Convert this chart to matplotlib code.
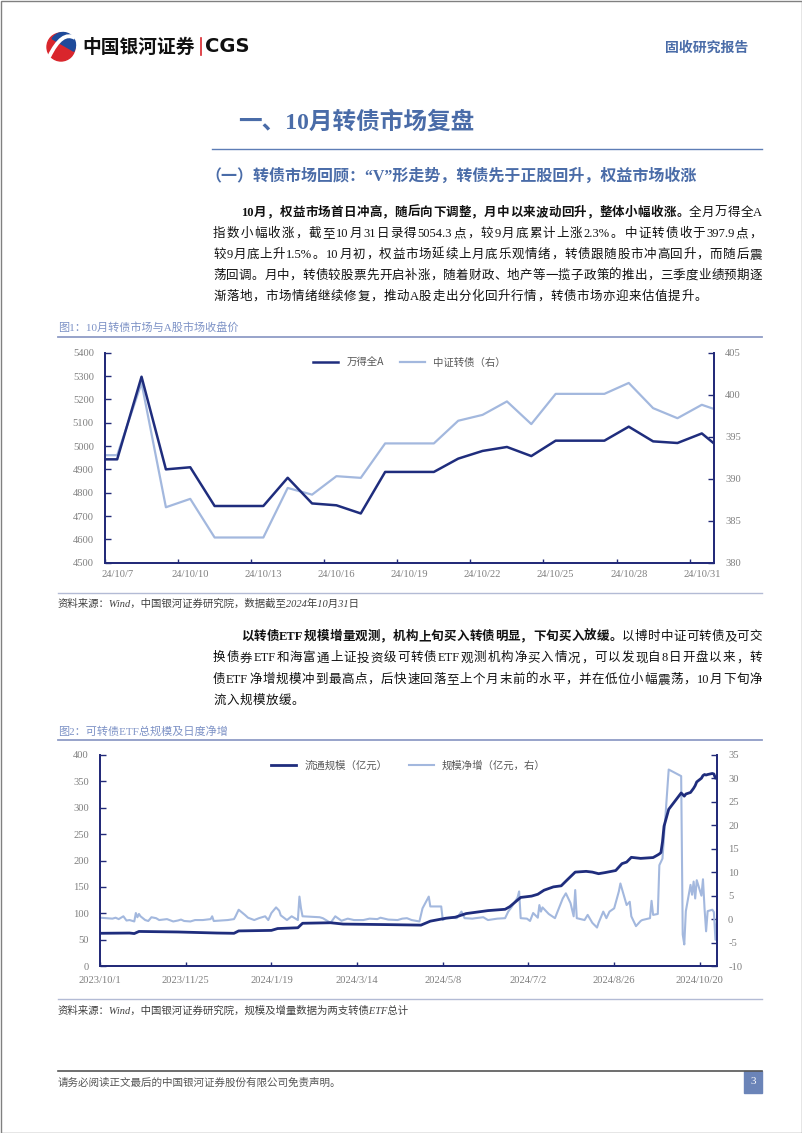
import re
import pandas as pd
import matplotlib
matplotlib.use('Agg')
import matplotlib.pyplot as plt
from matplotlib.patches import Rectangle, Circle, Wedge, PathPatch
from matplotlib.path import Path
from matplotlib.lines import Line2D

plt.rcParams['axes.unicode_minus'] = False

# ---------------- chart 1 data: daily close ----------------
dates1 = ['2024-10-06', '2024-10-07', '2024-10-08', '2024-10-09', '2024-10-10',
          '2024-10-11', '2024-10-12', '2024-10-13', '2024-10-14', '2024-10-15',
          '2024-10-16', '2024-10-17', '2024-10-18', '2024-10-19', '2024-10-20',
          '2024-10-21', '2024-10-22', '2024-10-23', '2024-10-24', '2024-10-25',
          '2024-10-26', '2024-10-27', '2024-10-28', '2024-10-29', '2024-10-30',
          '2024-10-31', '2024-11-01']
wind_a = [4943, 4943, 5297, 4900, 4909, 4743, 4743, 4743, 4864, 4754,
          4746, 4711, 4889, 4889, 4889, 4946, 4979, 4996, 4957, 5023,
          5023, 5023, 5083, 5020, 5013, 5054, 4968]
cb_index = [392.8, 392.8, 401.4, 386.6, 387.6, 383.0, 383.0, 383.0, 388.9, 388.1,
            390.3, 390.1, 394.2, 394.2, 394.2, 396.9, 397.6, 399.2, 396.5, 400.1,
            400.1, 400.1, 401.4, 398.4, 397.2, 398.8, 397.8]
ticks1 = ['2024-10-07', '2024-10-10', '2024-10-13', '2024-10-16', '2024-10-19',
          '2024-10-22', '2024-10-25', '2024-10-28', '2024-10-31']
labels1 = ['24/10/7', '24/10/10', '24/10/13', '24/10/16', '24/10/19',
           '24/10/22', '24/10/25', '24/10/28', '24/10/31']

# ---------------- chart 2 data: ETF size and daily net change ----------------
size_dates = ['2023-10-01', '2023-10-20', '2023-10-23', '2023-10-26', '2023-11-20',
              '2023-12-15', '2023-12-26', '2023-12-29', '2024-01-19', '2024-01-23',
              '2024-02-05', '2024-02-08', '2024-02-26', '2024-03-05', '2024-04-01',
              '2024-04-24', '2024-04-30', '2024-05-10', '2024-05-16', '2024-05-23',
              '2024-06-01', '2024-06-06', '2024-06-17', '2024-06-20', '2024-06-27',
              '2024-07-04', '2024-07-08', '2024-07-12', '2024-07-18', '2024-07-23',
              '2024-07-27', '2024-08-01', '2024-08-08', '2024-08-12', '2024-08-16',
              '2024-08-20', '2024-08-27', '2024-08-31', '2024-09-03', '2024-09-06',
              '2024-09-12', '2024-09-20', '2024-09-23', '2024-09-24', '2024-09-25',
              '2024-09-26', '2024-09-27', '2024-09-30', '2024-10-08', '2024-10-09',
              '2024-10-10', '2024-10-11', '2024-10-14', '2024-10-15', '2024-10-16',
              '2024-10-17', '2024-10-18', '2024-10-21', '2024-10-22', '2024-10-23',
              '2024-10-24', '2024-10-25', '2024-10-28', '2024-10-29', '2024-10-30',
              '2024-10-31']
etf_size = [62.0, 62.5, 61.5, 65.5, 64.5, 62.5, 62.0, 66.5, 67.5, 71.0,
            72.5, 81.0, 82.0, 79.5, 78.5, 77.5, 85.0, 90.6, 92.5, 99.4,
            103, 105, 107.5, 112.5, 130, 132.5, 136, 143.7, 150, 152,
            163.7, 178, 179.4, 178, 175, 177, 181, 194, 197, 206,
            204, 205.6, 210.6, 212.5, 215, 235, 265, 297, 328, 325,
            322, 326, 329, 333, 337, 342, 349, 356, 361, 363,
            362, 363, 365, 364, 356, 358]

flow_dates = ['2023-10-01', '2023-10-09', '2023-10-11', '2023-10-13', '2023-10-16',
              '2023-10-18', '2023-10-20', '2023-10-23', '2023-10-24', '2023-10-25',
              '2023-10-26', '2023-10-27', '2023-10-30', '2023-11-01', '2023-11-03',
              '2023-11-06', '2023-11-08', '2023-11-13', '2023-11-17', '2023-11-20',
              '2023-11-22', '2023-11-24', '2023-11-28', '2023-12-01', '2023-12-06',
              '2023-12-11', '2023-12-12', '2023-12-13', '2023-12-18', '2023-12-22',
              '2023-12-26', '2023-12-27', '2023-12-29', '2024-01-02', '2024-01-04',
              '2024-01-08', '2024-01-11', '2024-01-15', '2024-01-17', '2024-01-19',
              '2024-01-22', '2024-01-24', '2024-01-25', '2024-01-29', '2024-02-01',
              '2024-02-05', '2024-02-06', '2024-02-07', '2024-02-08', '2024-02-19',
              '2024-02-21', '2024-02-23', '2024-02-26', '2024-02-29', '2024-03-04',
              '2024-03-08', '2024-03-12', '2024-03-18', '2024-03-22', '2024-03-27',
              '2024-03-29', '2024-04-03', '2024-04-09', '2024-04-12', '2024-04-15',
              '2024-04-18', '2024-04-23', '2024-04-25', '2024-04-29', '2024-04-30',
              '2024-05-07', '2024-05-08', '2024-05-10', '2024-05-14', '2024-05-17',
              '2024-05-20', '2024-05-22', '2024-05-27', '2024-05-29', '2024-06-03',
              '2024-06-06', '2024-06-12', '2024-06-17', '2024-06-19', '2024-06-21',
              '2024-06-25', '2024-06-26', '2024-06-27', '2024-07-01', '2024-07-03',
              '2024-07-05', '2024-07-08', '2024-07-09', '2024-07-10', '2024-07-11',
              '2024-07-15', '2024-07-19', '2024-07-24', '2024-07-26', '2024-07-29',
              '2024-07-31', '2024-08-01', '2024-08-02', '2024-08-07', '2024-08-09',
              '2024-08-12', '2024-08-15', '2024-08-16', '2024-08-19', '2024-08-21',
              '2024-08-23', '2024-08-26', '2024-08-29', '2024-08-30', '2024-09-03',
              '2024-09-05', '2024-09-06', '2024-09-09', '2024-09-12', '2024-09-13',
              '2024-09-18', '2024-09-19', '2024-09-20', '2024-09-23', '2024-09-24',
              '2024-09-26', '2024-09-30', '2024-10-08', '2024-10-09', '2024-10-10',
              '2024-10-11', '2024-10-14', '2024-10-15', '2024-10-16', '2024-10-17',
              '2024-10-18', '2024-10-21', '2024-10-22', '2024-10-23', '2024-10-24',
              '2024-10-25', '2024-10-28', '2024-10-29', '2024-10-30', '2024-10-31']
etf_net = [0.3, 0.1, 0.3, 0.0, 0.6, -0.3, -0.2, -0.5, 1.3, 0.4,
           1.1, 0.6, -0.2, -0.4, 0.4, 0.2, -0.2, 0.0, -0.5, -0.3,
           -0.1, -0.4, -0.5, -0.2, -0.2, 0.0, 0.6, -0.4, -0.3, -0.2,
           0.0, 0.6, 2.0, 0.9, 0.3, -0.2, 0.2, 0.6, -0.2, 1.3,
           2.5, 1.8, 0.8, -0.2, 0.6, -0.2, 4.8, 2.3, 0.6, 0.4,
           0.2, -0.2, -0.8, 0.6, -0.35, 0.1, -0.2, -0.2, 0.1, 0.0,
           0.3, -0.1, -0.2, 0.1, 0.2, -0.2, -0.5, 2.3, 4.8, 2.7,
           2.7, -0.2, 0.2, 0.3, 0.2, 1.6, 0.2, 0.1, 0.2, 0.4,
           -0.2, 0.1, 0.2, 1.6, 2.5, 4.6, 5.9, 0.2, 0.1, -0.4,
           1.3, 0.3, 3.0, 1.6, 2.5, 1.1, 0.2, 4.4, 5.5, 3.4,
           0.6, 6.2, 0.2, -0.2, 0.9, -0.8, -1.8, -0.8, 1.6, 0.2,
           1.6, 2.3, 5.9, 7.6, 3.0, 3.7, 0.6, -1.5, -0.4, -0.2,
           0.2, 3.9, 0.9, 1.1, 11.5, 12.9, 31.9, 30.5, -3.3, -5.4,
           1.7, 7.3, 5.2, 8.0, 4.4, 8.3, 5.0, 8.5, 2.3, -2.6,
           1.7, 2.0, 1.5, -4.4, -0.2]
ticks2 = ['2023-10-01', '2023-11-25', '2024-01-19', '2024-03-14', '2024-05-08',
          '2024-07-02', '2024-08-26', '2024-10-20']
labels2 = ['2023/10/1', '2023/11/25', '2024/1/19', '2024/3/14', '2024/5/8',
           '2024/7/2', '2024/8/26', '2024/10/20']

DARK = '#1f2d7d'
LIGHT = '#a3b8de'
SPINE = '#222a78'
BLUE = '#4a6ca8'
CAP = '#7d92c6'
GREY = '#7f7f7f'
BODY = ['Liberation Serif', 'Noto Sans CJK SC']
CJK = ['Noto Sans CJK SC', 'DejaVu Sans']

fig = plt.figure(figsize=(8.02, 11.33), dpi=100)
ax0 = fig.add_axes([0, 0, 1, 1])
ax0.set_xlim(0, 802)
ax0.set_ylim(1133, 0)
ax0.axis('off')
R = fig.canvas.get_renderer()

# page frame
ax0.add_patch(Rectangle((0.5, 0.5), 801, 1132, fill=False, ec='#808080', lw=1))

# ---- header / logo ----
ax0.add_patch(Circle((61, 47), 14, color='#d9262c'))
ax0.add_patch(Wedge((63, 45), 12.5, -150, 30, color='#1e4a9a'))
swirl = Path([(49, 57), (62, 30), (75, 38)], [Path.MOVETO, Path.CURVE3, Path.CURVE3])
ax0.add_patch(PathPatch(swirl, fill=False, ec='white', lw=2.8))
ax0.text(82, 47, '中国银河证券', fontsize=13.5, fontweight='bold', family=CJK,
         color='#111111', va='center', ha='left')
ax0.plot([200.5, 200.5], [38, 55], color='#d9262c', lw=1.2)
ax0.text(205, 47, 'CGS', fontsize=14, fontweight='bold', family='DejaVu Sans',
         color='#111111', va='center', ha='left')
ax0.text(748, 48, '固收研究报告', fontsize=10, fontweight='bold', family=CJK,
         color=BLUE, va='center', ha='right')

ax0.text(238, 122, '一、10月转债市场复盘', fontsize=17, fontweight='bold',
         family=BODY, color=BLUE, va='center', ha='left')
ax0.plot([212, 762], [149, 149], color='#5d7db6', lw=1)
ax0.text(205, 177, '（一）转债市场回顾：“V”形走势，转债先于正股回升，权益市场收涨',
         fontsize=11.5, fontweight='bold', family=BODY, color=BLUE,
         va='center', ha='left')

TOK = re.compile(r'[A-Za-z0-9.%]+|.')


def text_line(segs, x0, x1, y, size=9, justify=True):
    items = []
    for s, w in segs:
        for t in TOK.findall(s):
            items.append(ax0.text(0, y + 4, t, fontsize=size, fontweight=w,
                                  family=BODY, color='#111111',
                                  va='baseline', ha='left'))
    ws = [it.get_window_extent(renderer=R).width for it in items]
    gap = (x1 - x0 - sum(ws)) / (len(items) - 1) if justify else 0.6
    x = x0
    for it, w in zip(items, ws):
        it.set_x(x)
        x += w + gap


para1 = [
    [('10月，权益市场首日冲高，随后向下调整，月中以来波动回升，整体小幅收涨。', 'bold'),
     ('全月万得全A', 'normal')],
    [('指数小幅收涨，截至10月31日录得5054.3点，较9月底累计上涨2.3%。中证转债收于397.9点，', 'normal')],
    [('较9月底上升1.5%。10月初，权益市场延续上月底乐观情绪，转债跟随股市冲高回升，而随后震', 'normal')],
    [('荡回调。月中，转债较股票先开启补涨，随着财政、地产等一揽子政策的推出，三季度业绩预期逐', 'normal')],
    [('渐落地，市场情绪继续修复，推动A股走出分化回升行情，转债市场亦迎来估值提升。', 'normal')],
]
para2 = [
    [('以转债ETF规模增量观测，机构上旬买入转债明显，下旬买入放缓。', 'bold'),
     ('以博时中证可转债及可交', 'normal')],
    [('换债券ETF和海富通上证投资级可转债ETF观测机构净买入情况，可以发现自8日开盘以来，转', 'normal')],
    [('债ETF净增规模冲到最高点，后快速回落至上个月末前的水平，并在低位小幅震荡，10月下旬净', 'normal')],
    [('流入规模放缓。', 'normal')],
]
for i, segs in enumerate(para1):
    text_line(segs, 241 if i == 0 else 213, 762, 212 + 21 * i,
              justify=i < len(para1) - 1)
for i, segs in enumerate(para2):
    text_line(segs, 241 if i == 0 else 213, 762, 636 + 21.4 * i,
              justify=i < len(para2) - 1)

# captions, rules, sources
ax0.text(58, 327, '图1：10月转债市场与A股市场收盘价', fontsize=8, family=BODY,
         color=CAP, va='center', ha='left')
ax0.plot([58, 762], [337, 337], color='#8f9cc6', lw=1.3)
ax0.plot([58, 762], [593, 593], color='#b3bbd5', lw=1)
ax0.text(58, 604, '资料来源：Wind，中国银河证券研究院，数据截至2024年10月31日',
         fontsize=7.5, family=BODY, style='italic', color='#404040',
         va='center', ha='left')
ax0.text(58, 731, '图2：可转债ETF总规模及日度净增', fontsize=8, family=BODY,
         color=CAP, va='center', ha='left')
ax0.plot([58, 762], [740, 740], color='#8f9cc6', lw=1.3)
ax0.plot([58, 762], [999, 999], color='#b3bbd5', lw=1)
ax0.text(58, 1011, '资料来源：Wind，中国银河证券研究院，规模及增量数据为两支转债ETF总计',
         fontsize=7.5, family=BODY, style='italic', color='#404040',
         va='center', ha='left')

# footer
ax0.plot([58, 762], [1071, 1071], color='#555555', lw=1.2)
ax0.text(58, 1083, '请务必阅读正文最后的中国银河证券股份有限公司免责声明。',
         fontsize=7.6, family=CJK, color='#555555', va='center', ha='left')
ax0.add_patch(Rectangle((744, 1071), 18, 22, color='#6b84b8'))
ax0.text(753, 1082, '3', fontsize=8, family='Liberation Serif', color='white',
         va='center', ha='center')


def style_axes(ax, axr):
    for a in (ax, axr):
        a.spines['top'].set_visible(False)
        for s in ('left', 'right', 'bottom'):
            a.spines[s].set_color(SPINE)
            a.spines[s].set_linewidth(1.3)
        a.tick_params(direction='in', length=4, width=1, color=SPINE,
                      labelcolor=GREY, labelsize=7.6, pad=8)
        for lab in a.get_yticklabels():
            lab.set_family('Liberation Serif')


# ---------------- chart 1 ----------------
ax1 = fig.add_axes([105 / 802, 1 - 562.7 / 1133, 609 / 802, 210 / 1133])
ax1r = ax1.twinx()
x1 = pd.to_datetime(dates1) + pd.Timedelta(hours=12)
ax1.plot(x1, wind_a, color=DARK, lw=1.8)
ax1r.plot(x1, cb_index, color=LIGHT, lw=1.6)
ax1.set_zorder(ax1r.get_zorder() + 1)
ax1.patch.set_visible(False)
ax1.set_xlim(pd.Timestamp('2024-10-07'), pd.Timestamp('2024-11-01'))
ax1.set_ylim(4500, 5400)
ax1r.set_ylim(380, 405)
ax1.set_yticks(range(4500, 5401, 100))
ax1r.set_yticks(range(380, 406, 5))
ax1.set_xticks(pd.to_datetime(ticks1))
ax1.set_xticklabels([])
ax1.set_xticks(pd.to_datetime(ticks1) + pd.Timedelta(hours=12), minor=True)
ax1.set_xticklabels(labels1, minor=True, family='Liberation Serif')
style_axes(ax1, ax1r)
ax1.tick_params(axis='x', which='major', length=3)
ax1.tick_params(axis='x', which='minor', length=0, pad=5, labelsize=7.6,
                labelcolor=GREY)
h1 = [Line2D([], [], color=DARK, lw=1.8), Line2D([], [], color=LIGHT, lw=1.6)]
ax1.legend(h1, ['万得全A', '中证转债（右）'], loc='upper center', ncol=2,
           frameon=False, prop={'family': CJK, 'size': 7.5}, labelcolor='#595959',
           handlelength=2.4, columnspacing=1.5, borderaxespad=0.1,
           bbox_to_anchor=(0.5, 1.0))

# ---------------- chart 2 ----------------
ax2 = fig.add_axes([100 / 802, 1 - 966 / 1133, 617 / 802, 211 / 1133])
ax2r = ax2.twinx()
ax2.plot(pd.to_datetime(size_dates), etf_size, color=DARK, lw=2.0)
ax2r.plot(pd.to_datetime(flow_dates), etf_net, color=LIGHT, lw=1.5)
ax2.set_zorder(ax2r.get_zorder() + 1)
ax2.patch.set_visible(False)
ax2.set_xlim(pd.Timestamp('2023-10-01'), pd.Timestamp('2024-10-31'))
ax2.set_ylim(0, 400)
ax2r.set_ylim(-10, 35)
ax2.set_yticks(range(0, 401, 50))
ax2r.set_yticks(range(-10, 36, 5))
ax2.set_xticks(pd.to_datetime(ticks2))
ax2.set_xticklabels(labels2, family='Liberation Serif')
style_axes(ax2, ax2r)
ax2.tick_params(axis='x', length=3, pad=7)
h2 = [Line2D([], [], color=DARK, lw=2.0), Line2D([], [], color=LIGHT, lw=1.5)]
ax2.legend(h2, ['流通规模（亿元）', '规模净增（亿元，右）'], loc='upper center',
           ncol=2, frameon=False, prop={'family': CJK, 'size': 7.5},
           labelcolor='#595959', handlelength=2.4, columnspacing=2.0,
           borderaxespad=0.1, bbox_to_anchor=(0.5, 1.0))

fig.savefig('out.png', dpi=100)
